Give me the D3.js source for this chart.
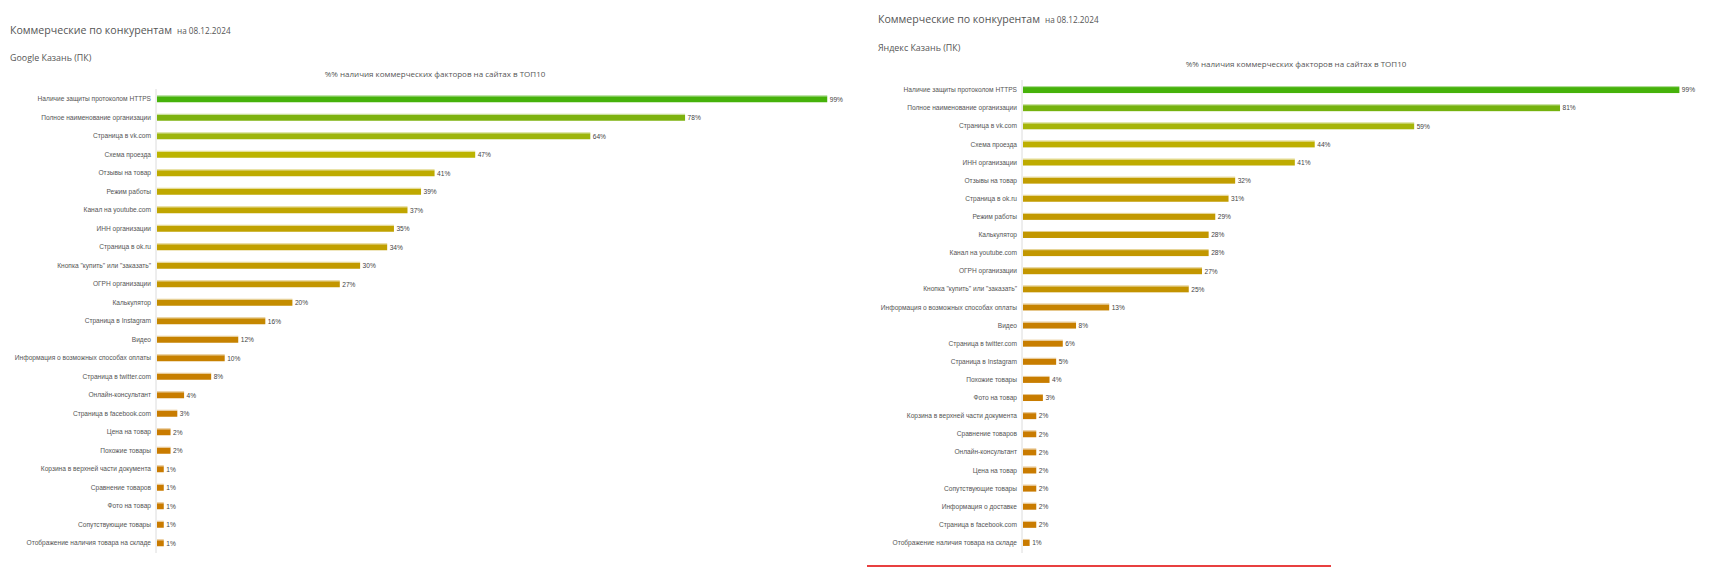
<!DOCTYPE html>
<html>
<head>
<meta charset="utf-8">
<script src="https://cdn.jsdelivr.net/npm/d3@7"></script>
<style>
  html, body { margin: 0; padding: 0; background: #fff; }
  svg { display: block; }
</style>
</head>
<body>
<svg id="chart" width="1711" height="567"></svg>
<script>
// ---------- Data ----------
const googleCategories = [
  "Наличие защиты протоколом HTTPS",
  "Полное наименование организации",
  "Страница в vk.com",
  "Схема проезда",
  "Отзывы на товар",
  "Режим работы",
  "Канал на youtube.com",
  "ИНН организации",
  "Страница в ok.ru",
  "Кнопка \"купить\" или \"заказать\"",
  "ОГРН организации",
  "Калькулятор",
  "Страница в Instagram",
  "Видео",
  "Информация о возможных способах оплаты",
  "Страница в twitter.com",
  "Онлайн-консультант",
  "Страница в facebook.com",
  "Цена на товар",
  "Похожие товары",
  "Корзина в верхней части документа",
  "Сравнение товаров",
  "Фото на товар",
  "Сопутствующие товары",
  "Отображение наличия товара на складе"
];
const googleValues = [99, 78, 64, 47, 41, 39, 37, 35, 34, 30, 27, 20, 16, 12, 10, 8, 4, 3, 2, 2, 1, 1, 1, 1, 1];

const yandexCategories = [
  "Наличие защиты протоколом HTTPS",
  "Полное наименование организации",
  "Страница в vk.com",
  "Схема проезда",
  "ИНН организации",
  "Отзывы на товар",
  "Страница в ok.ru",
  "Режим работы",
  "Калькулятор",
  "Канал на youtube.com",
  "ОГРН организации",
  "Кнопка \"купить\" или \"заказать\"",
  "Информация о возможных способах оплаты",
  "Видео",
  "Страница в twitter.com",
  "Страница в Instagram",
  "Похожие товары",
  "Фото на товар",
  "Корзина в верхней части документа",
  "Сравнение товаров",
  "Онлайн-консультант",
  "Цена на товар",
  "Сопутствующие товары",
  "Информация о доставке",
  "Страница в facebook.com",
  "Отображение наличия товара на складе"
];
const yandexValues = [99, 81, 59, 44, 41, 32, 31, 29, 28, 28, 27, 25, 13, 8, 6, 5, 4, 3, 2, 2, 2, 2, 2, 2, 2, 1];

const mainTitle = "Коммерческие по конкурентам";
const dateLabel = "на 08.12.2024";
const chartTitle = "%% наличия коммерческих факторов на сайтах в ТОП10";
const googleSubtitle = "Google Казань (ПК)";
const yandexSubtitle = "Яндекс Казань (ПК)";

// ---------- Drawing ----------
const svg = d3.select("#chart");
const FONT = "'Open Sans', 'Noto Sans', sans-serif";
const LABEL_FONT = "'Liberation Sans', Arial, sans-serif";

const colorScale = d3.scaleLinear()
  .domain([0, 12, 30, 47, 64, 78, 99])
  .range(["#c97a00", "#c68200", "#c29a00", "#bcb400", "#9db50d", "#7db20f", "#46b20a"]);

function panel(cfg) {
  const g = svg.append("g");

  // Headings
  const t = g.append("text")
    .attr("x", cfg.titleX).attr("y", cfg.titleY)
    .attr("font-family", FONT).attr("fill", "#555");
  t.append("tspan").attr("font-size", "10.6px").text(mainTitle);
  t.append("tspan").attr("font-size", "8.2px").attr("dx", 5).text(dateLabel);

  g.append("text")
    .attr("x", cfg.titleX).attr("y", cfg.subY)
    .attr("font-family", FONT).attr("font-size", "8.9px").attr("fill", "#555")
    .text(cfg.subtitle);

  const x = d3.scaleLinear().domain([0, 100]).range([cfg.x0, cfg.x1]);
  const y = d3.scaleBand().domain(cfg.categories).range([cfg.y0, cfg.y1]);

  g.append("text")
    .attr("x", cfg.chartTitleX).attr("y", cfg.chartTitleY)
    .attr("text-anchor", "middle")
    .attr("font-family", FONT).attr("font-size", "8px").attr("fill", "#555")
    .text(chartTitle);

  // Category axis via d3 axis
  const axis = d3.axisLeft(y).tickSize(0).tickPadding(5);
  const ag = g.append("g").attr("transform", `translate(${cfg.x0},0)`).call(axis);
  ag.select(".domain")
    .attr("d", `M0,${cfg.axisTop}V${cfg.axisBottom}`)
    .attr("stroke", "#dcdcdc");
  ag.selectAll(".tick text")
    .attr("font-family", LABEL_FONT)
    .attr("font-size", "6.6px")
    .attr("fill", "#555");

  const data = cfg.categories.map((c, i) => ({ c, v: cfg.values[i] }));
  const barH = 6;

  const bars = g.append("g").selectAll("g").data(data).join("g");
  bars.append("rect")
    .attr("x", x(0) + 1)
    .attr("y", d => y(d.c) + (y.bandwidth() - barH) / 2)
    .attr("width", d => x(d.v) - x(0))
    .attr("height", barH)
    .attr("fill", d => colorScale(d.v));
  bars.append("rect")
    .attr("x", x(0) + 1)
    .attr("y", d => y(d.c) + (y.bandwidth() - barH) / 2 - 1)
    .attr("width", d => x(d.v) - x(0))
    .attr("height", 1)
    .attr("fill", d => d3.interpolateRgb(colorScale(d.v), "#fff")(0.55));
  bars.append("text")
    .attr("x", d => x(d.v) + 3.5)
    .attr("y", d => y(d.c) + y.bandwidth() / 2)
    .attr("dy", "0.35em")
    .attr("font-family", LABEL_FONT)
    .attr("font-size", "6.6px")
    .attr("fill", "#444")
    .text(d => d.v + "%");
}

panel({
  categories: googleCategories, values: googleValues,
  subtitle: googleSubtitle,
  titleX: 10, titleY: 34, subY: 61,
  chartTitleX: 435, chartTitleY: 77,
  x0: 156, x1: 833, y0: 90, y1: 552.5,
  axisTop: 89, axisBottom: 553
});

panel({
  categories: yandexCategories, values: yandexValues,
  subtitle: yandexSubtitle,
  titleX: 878, titleY: 23, subY: 51,
  chartTitleX: 1296, chartTitleY: 67,
  x0: 1022, x1: 1685, y0: 81, y1: 552,
  axisTop: 80, axisBottom: 553
});

// Red underline at the bottom of right panel
svg.append("line")
  .attr("x1", 867).attr("x2", 1331)
  .attr("y1", 566).attr("y2", 566)
  .attr("stroke", "#e00000").attr("stroke-width", 1.5);
</script>
</body>
</html>
